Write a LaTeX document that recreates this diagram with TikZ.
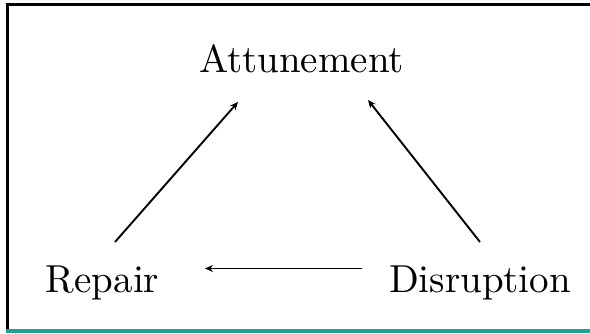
\documentclass[tikz,border=0pt]{standalone}
\usetikzlibrary{arrows.meta}
\definecolor{tealbar}{RGB}{34,160,142}
\font\lmbig="[lmroman10-regular.otf]" at 39pt
\begin{document}
\begin{tikzpicture}[x=1pt,y=1pt,
  lbl/.style={inner sep=0pt,anchor=base,font=\lmbig},
  arr/.style={line width=1.9pt,-{Stealth[length=8pt,width=7pt]}}]
\useasboundingbox (0,0) rectangle (590,333);
\draw[line width=3pt] (6,328.5) -- (590,328.5);
\draw[line width=3pt] (7.5,330) -- (7.5,4);
\draw[tealbar,line width=4pt] (6,2) -- (590,2);
\node[lbl] (att) at (301.5,261) {Attunement};
\node[lbl] (rep) at (102.5,41) {Repair};
\node[lbl] (dis) at (480,41) {Disruption};
\coordinate (a1) at (115,91);
\coordinate (a2) at (238,231);
\coordinate (b1) at (480,91);
\coordinate (b2) at (368,233);
\coordinate (c1) at (362,64.5);
\coordinate (c2) at (205,64.5);
\draw[arr] (a1) -- (a2);
\draw[arr] (b1) -- (b2);
\draw[arr] (c1) -- (c2);
\end{tikzpicture}
\end{document}
